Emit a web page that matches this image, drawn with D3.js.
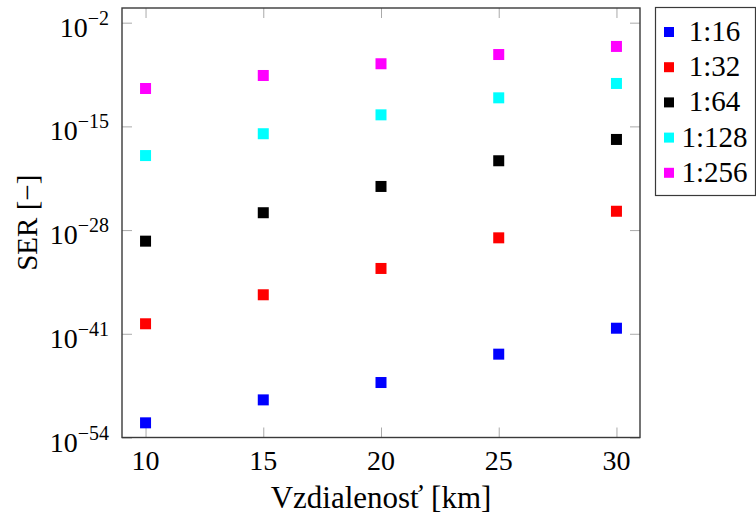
<!DOCTYPE html>
<html><head><meta charset="utf-8">
<script src="https://cdn.jsdelivr.net/npm/d3@7"></script>
<style>
html,body{margin:0;padding:0;background:#fff;}
svg{display:block;}
text{font-family:"Liberation Serif","DejaVu Serif",serif;fill:#000;}
</style></head>
<body>
<svg id="chart" width="756" height="523"></svg>
<script>
// ---- data ----
const distances = [10, 15, 20, 25, 30];
const seriesNames = ["1:16", "1:32", "1:64", "1:128", "1:256"];
const seriesColors = ["#0000ff", "#ff0000", "#000000", "#00ffff", "#ff00ff"];
const ser16  = [6.9e-53, 5.2e-50, 7.8e-48, 2.8e-44, 5.0e-41];
const ser32  = [1.8e-40, 7.8e-37, 1.55e-33, 1.07e-29, 2.3e-26];
const ser64  = [4.1e-30, 1.5e-26, 2.95e-23, 4.9e-20, 2.3e-17];
const ser128 = [2.2e-19, 1.2e-16, 2.8e-14, 3.8e-12, 2.4e-10];
const ser256 = [5.6e-11, 2.4e-9, 7.1e-8, 1.02e-6, 1.05e-5];
const xTicks = [10, 15, 20, 25, 30];
const yTickExponents = [-54, -41, -28, -15, -2];
const xLabel = "Vzdialenosť [km]";
const yLabel = "SER [−]";

const seriesValues = [ser16, ser32, ser64, ser128, ser256];

// ---- layout ----
const L = 122, R = 640, T = 8, B = 437.5;
const svg = d3.select("#chart");

const x = d3.scaleLinear().domain([9, 31]).range([L, R]);
const y = d3.scaleLog().domain([1e-54, Math.pow(10, -0.16)]).range([B, T]);
const yTicks = yTickExponents.map(e => Math.pow(10, e));

// ticks (inside, on all four sides)
const tickStyle = g => {
  g.select(".domain").remove();
  g.selectAll(".tick line").attr("stroke", "#a0a0a0").attr("stroke-width", 0.9);
  g.selectAll(".tick text").remove();
};
svg.append("g").attr("transform", `translate(0,${B})`)
  .call(d3.axisBottom(x).tickValues(xTicks).tickSize(-10)).call(tickStyle);
svg.append("g").attr("transform", `translate(0,${T})`)
  .call(d3.axisTop(x).tickValues(xTicks).tickSize(-10)).call(tickStyle);
svg.append("g").attr("transform", `translate(${L},0)`)
  .call(d3.axisLeft(y).tickValues(yTicks).tickSize(-10)).call(tickStyle);
svg.append("g").attr("transform", `translate(${R},0)`)
  .call(d3.axisRight(y).tickValues(yTicks).tickSize(-10)).call(tickStyle);

// frame
svg.append("rect").attr("x", L).attr("y", T).attr("width", R - L).attr("height", B - T)
  .attr("fill", "none").attr("stroke", "#3a3a3a").attr("stroke-width", 1.4);

// x tick labels
svg.append("g").selectAll("text").data(xTicks).join("text")
  .attr("x", d => x(d)).attr("y", 470).attr("text-anchor", "middle")
  .attr("font-size", 28).text(d => d);

// y tick labels 10^e
const yl = svg.append("g").selectAll("text").data(yTickExponents).join("text")
  .attr("x", 109).attr("y", d => y(Math.pow(10, d)) + 14).attr("text-anchor", "end")
  .attr("font-size", 28);
yl.append("tspan").text("10");
yl.append("tspan").attr("dy", -12).attr("font-size", 20).text(d => "−" + Math.abs(d));

// axis labels
svg.append("text").attr("x", (L + R) / 2).attr("y", 508).attr("text-anchor", "middle")
  .attr("font-size", 31).text(xLabel);
svg.append("text").attr("transform", `translate(37,${(T + B) / 2}) rotate(-90)`)
  .attr("text-anchor", "middle").attr("font-size", 29).text(yLabel);

// markers
const ms = 11;
seriesValues.forEach((vals, i) => {
  svg.append("g").selectAll("rect").data(vals).join("rect")
    .attr("x", (d, j) => x(distances[j]) - ms / 2)
    .attr("y", d => y(d) - ms / 2)
    .attr("width", ms).attr("height", ms)
    .attr("fill", seriesColors[i]);
});

// legend
const lg = svg.append("g");
lg.append("rect").attr("x", 655.5).attr("y", 7.5).attr("width", 100).attr("height", 188)
  .attr("fill", "#fff").attr("stroke", "#3a3a3a").attr("stroke-width", 1.2);
const lms = 10;
seriesNames.forEach((name, i) => {
  const cy = 32 + i * 35.2;
  lg.append("rect").attr("x", 669 - lms / 2).attr("y", cy - lms / 2)
    .attr("width", lms).attr("height", lms).attr("fill", seriesColors[i]);
  lg.append("text").attr("x", 714.5).attr("y", cy + 9).attr("text-anchor", "middle")
    .attr("font-size", 29).text(name);
});
</script>
</body></html>
